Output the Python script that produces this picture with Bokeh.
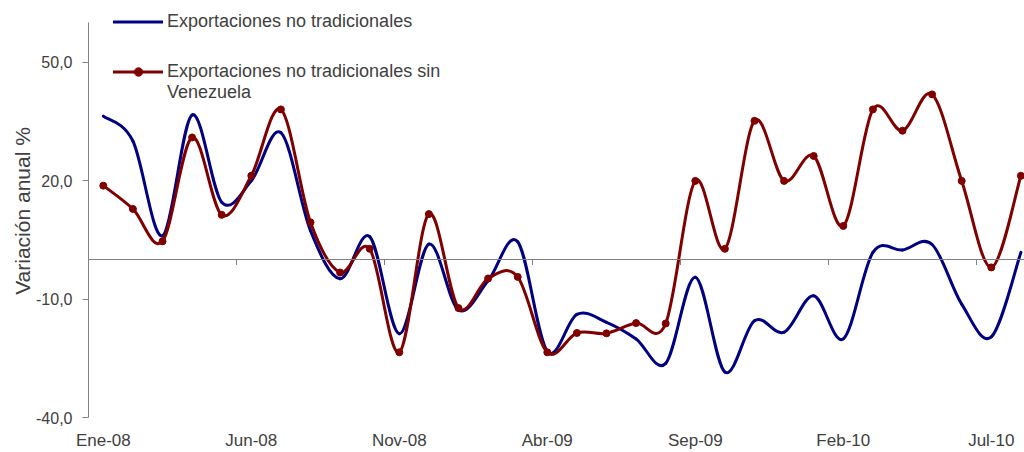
from bokeh.plotting import figure
from bokeh.models import (Range1d, FixedTicker, Span, Legend, LegendItem, ColumnDataSource, Title)
from bokeh.embed import file_html
from bokeh.resources import INLINE

# ---------------- data ----------------
months = ["Ene-08", "Feb-08", "Mar-08", "Abr-08", "May-08", "Jun-08", "Jul-08", "Ago-08",
          "Sep-08", "Oct-08", "Nov-08", "Dic-08", "Ene-09", "Feb-09", "Mar-09", "Abr-09",
          "May-09", "Jun-09", "Jul-09", "Ago-09", "Sep-09", "Oct-09", "Nov-09", "Dic-09",
          "Ene-10", "Feb-10", "Mar-10", "Abr-10", "May-10", "Jun-10", "Jul-10", "Ago-10"]

no_tradicionales = [36.3, 30.0, 6.0, 36.6, 14.5, 19.9, 32.1, 7.3, -4.9, 5.8, -18.8, 3.9,
                    -12.8, -5.4, 4.5, -23.3, -13.9, -15.9, -20.1, -26.3, -4.5, -28.5, -15.5, -18.4,
                    -9.2, -20.1, 1.8, 2.4, 3.8, -11.3, -19.6, 1.8]

sin_venezuela = [18.7, 12.8, 4.6, 30.9, 11.3, 21.2, 38.0, 9.4, -3.3, 2.7, -23.5, 11.5,
                 -12.3, -4.8, -4.4, -23.5, -18.6, -18.7, -16.1, -16.2, 19.9, 2.7, 35.1, 19.9,
                 26.2, 8.5, 38.0, 32.6, 41.8, 19.9, -2.0, 21.2]

legend_blue = "Exportaciones no tradicionales"
legend_red_lines = ["Exportaciones no tradicionales sin", "Venezuela"]

y_ticks = [-40, -10, 20, 50]
y_tick_labels = ["-40,0", "-10,0", "20,0", "50,0"]
label_step = 5
y_title = "Variación anual %"

# ---------------- style ----------------
BLUE = "#000080"
RED = "#800000"
TXT = "#404040"
AX = "#808080"
FONT = "Liberation Sans"

n = len(months)
xs = [i + 0.5 for i in range(n)]


def smooth_source(x, y):
    """Cubic Bezier segments (smoothed line, as in the original chart)."""
    x0, y0, x1, y1, cx0, cy0, cx1, cy1 = [], [], [], [], [], [], [], []
    m = len(x)
    for i in range(m - 1):
        ip = max(i - 1, 0)
        inn = min(i + 2, m - 1)
        x0.append(x[i]); y0.append(y[i])
        x1.append(x[i + 1]); y1.append(y[i + 1])
        cx0.append(x[i] + (x[i + 1] - x[ip]) / 6.0)
        cy0.append(y[i] + (y[i + 1] - y[ip]) / 6.0)
        cx1.append(x[i + 1] - (x[inn] - x[i]) / 6.0)
        cy1.append(y[i + 1] - (y[inn] - y[i]) / 6.0)
    return ColumnDataSource(dict(x0=x0, y0=y0, x1=x1, y1=y1,
                                 cx0=cx0, cy0=cy0, cx1=cx1, cy1=cy1))


# ---------------- figure ----------------
W, H = 1024, 452
LEFT = 88
BOTTOM = 31
PX_PER_MONTH = 29.6
px_per_unit = 3.95
y_top = 60 + 22 / px_per_unit
y_bottom = -40 - (H - BOTTOM - 417) / px_per_unit
x_end = (W - LEFT) / PX_PER_MONTH

p = figure(width=W, height=H, x_range=Range1d(0, x_end), y_range=Range1d(y_bottom, y_top),
           output_backend="svg", toolbar_location=None,
           min_border_left=LEFT, min_border_right=0, min_border_top=0, min_border_bottom=BOTTOM)
p.outline_line_color = None
p.grid.visible = False
p.background_fill_color = "white"

# zero line with category tick marks
p.add_layout(Span(location=0, dimension="width", line_color=AX, line_width=1))
bounds = [float(k) for k in range(label_step, n, label_step)]
p.segment(x0=bounds, y0=[0] * len(bounds), x1=bounds, y1=[-1.4] * len(bounds),
          line_color=AX, line_width=1)

blue_r = p.bezier(x0="x0", y0="y0", x1="x1", y1="y1", cx0="cx0", cy0="cy0", cx1="cx1", cy1="cy1",
                  source=smooth_source(xs, no_tradicionales), line_color=BLUE, line_width=3,
                  line_cap="round")
red_r = p.bezier(x0="x0", y0="y0", x1="x1", y1="y1", cx0="cx0", cy0="cy0", cx1="cx1", cy1="cy1",
                 source=smooth_source(xs, sin_venezuela), line_color=RED, line_width=3,
                 line_cap="round")
red_pts = p.scatter(xs, sin_venezuela, size=7, fill_color=RED, line_color=RED)

# x axis: labels only (the category line itself is the zero line above)
lab_idx = list(range(0, n, label_step))
xa = p.xaxis[0]
xa.ticker = FixedTicker(ticks=[xs[i] for i in lab_idx])
xa.major_label_overrides = {xs[i]: months[i] for i in lab_idx}
xa.axis_line_color = None
xa.major_tick_line_color = None
xa.minor_tick_line_color = None
xa.major_tick_out = 0
xa.major_tick_in = 0
xa.major_label_standoff = 9
xa.major_label_text_line_height = 0.9
xa.major_label_text_font = FONT
xa.major_label_text_font_size = "17px"
xa.major_label_text_color = TXT

# y axis
ya = p.yaxis[0]
ya.bounds = (-40, 60)
ya.ticker = FixedTicker(ticks=y_ticks)
ya.major_label_overrides = dict(zip(y_ticks, y_tick_labels))
ya.axis_line_color = AX
ya.major_tick_line_color = AX
ya.major_tick_out = 6
ya.major_tick_in = 0
ya.minor_tick_line_color = None
ya.major_label_standoff = 10
ya.major_label_text_font = FONT
ya.major_label_text_font_size = "16px"
ya.major_label_text_color = TXT

# y axis title, slightly above the middle as in the original
p.add_layout(Title(text=y_title, align="center", offset=28, standoff=0,
                   text_font=FONT, text_font_size="21px", text_font_style="normal",
                   text_color=TXT), "left")

common = dict(orientation="vertical", glyph_width=50, glyph_height=21, label_height=21,
              label_standoff=4, padding=0, margin=0, spacing=0,
              border_line_color=None, background_fill_alpha=0,
              label_text_font=FONT, label_text_font_size="18px", label_text_color=TXT)

frame_h = H - BOTTOM
legend_a = Legend(items=[LegendItem(label=legend_blue, renderers=[blue_r])],
                  location=(25, frame_h - 32), **common)
legend_b = Legend(items=[LegendItem(label=legend_red_lines[0], renderers=[red_r, red_pts]),
                         LegendItem(label=legend_red_lines[1], renderers=[])],
                  location=(25, frame_h - 103), **common)
p.add_layout(legend_a)
p.add_layout(legend_b)

open("out.html", "w").write(file_html(p, INLINE))
